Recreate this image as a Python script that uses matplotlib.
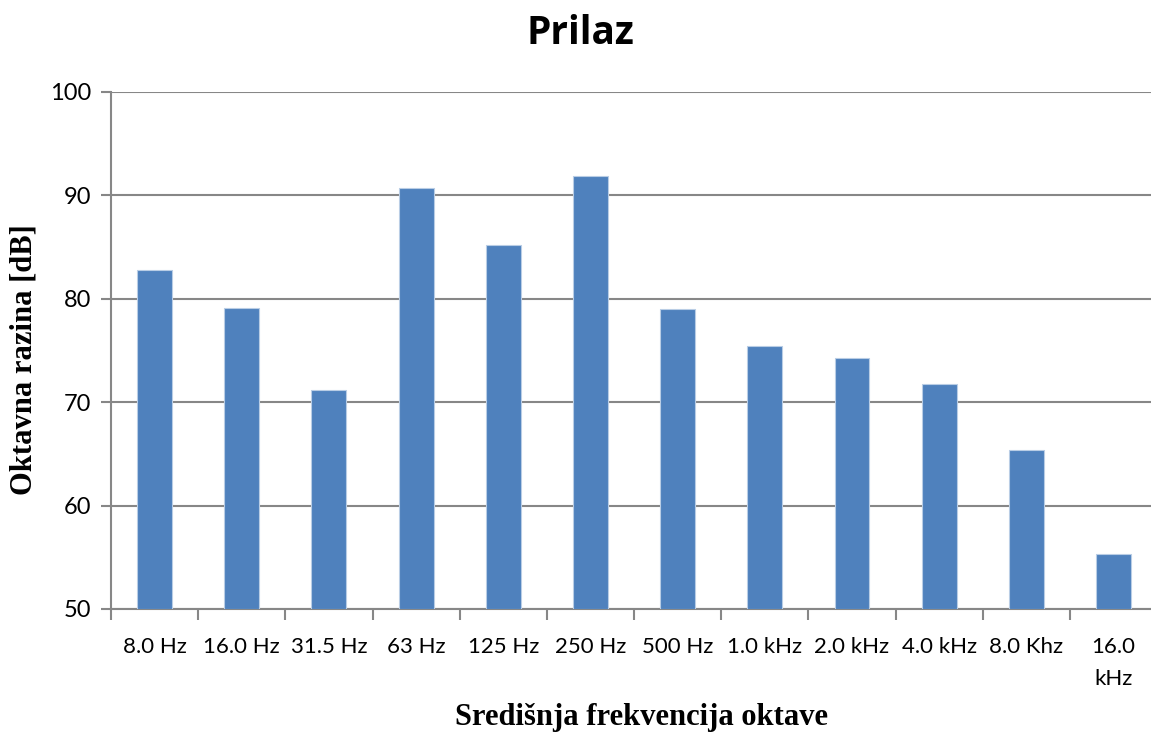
import numpy as np
import matplotlib
matplotlib.use("Agg")
import matplotlib.pyplot as plt
from matplotlib.ticker import FixedLocator

# data
bands = ["8.0 Hz", "16.0 Hz", "31.5 Hz", "63 Hz", "125 Hz", "250 Hz", "500 Hz",
         "1.0 kHz", "2.0 kHz", "4.0 kHz", "8.0 Khz", "16.0\nkHz"]
levels = [82.8, 79.1, 71.2, 90.7, 85.2, 91.9, 79.0, 75.4, 74.3, 71.8, 65.4, 55.3]
yticks = [50, 60, 70, 80, 90, 100]

BAR = "#4F81BD"
GRID = "#878787"

fig = plt.figure(figsize=(11.51, 7.33), dpi=100)
ax = fig.add_axes([0.0964, 0.1692, 0.909, 0.7053])

x = np.arange(len(bands))
ax.bar(x, np.array(levels) - 50, bottom=50, width=0.4, color=BAR,
       edgecolor="#B9CDE5", linewidth=0.8, zorder=3)

ax.set_xlim(-0.5, len(bands) - 0.5)
ax.set_ylim(50, 100)
ax.set_yticks(yticks)
ax.set_yticklabels([str(v) for v in yticks], fontsize=17, family="Lato")
ax.yaxis.grid(True, color=GRID, linewidth=1.5, zorder=0)
ax.tick_params(axis="y", direction="out", length=7, width=1.5, color=GRID, pad=7)

ax.set_xticks(x)
ax.set_xticklabels(bands, fontsize=16, family="Lato", linespacing=1.75, va="top")
ax.tick_params(axis="x", which="major", length=0, pad=20)
ax.xaxis.set_minor_locator(FixedLocator(np.arange(-0.5, len(bands), 1.0)))
ax.tick_params(axis="x", which="minor", direction="out", length=8, width=1.5,
               color=GRID)

for s in ["top", "right"]:
    ax.spines[s].set_visible(False)
for s in ["left", "bottom"]:
    ax.spines[s].set_color(GRID)
    ax.spines[s].set_linewidth(1.5)

fig.text(0.504, 0.954, "Prilaz", ha="center", va="center", fontsize=28,
         fontweight="bold", family="Open Sans")
fig.text(0.557, 0.021, "Središnja frekvencija oktave", ha="center", va="center",
         fontsize=22, fontweight="bold", family="Liberation Serif")
fig.text(0.021, 0.509, "Oktavna razina [dB]", ha="center", va="center",
         rotation=90, fontsize=22, fontweight="bold", family="Liberation Serif")

fig.savefig("out.png", dpi=100)
